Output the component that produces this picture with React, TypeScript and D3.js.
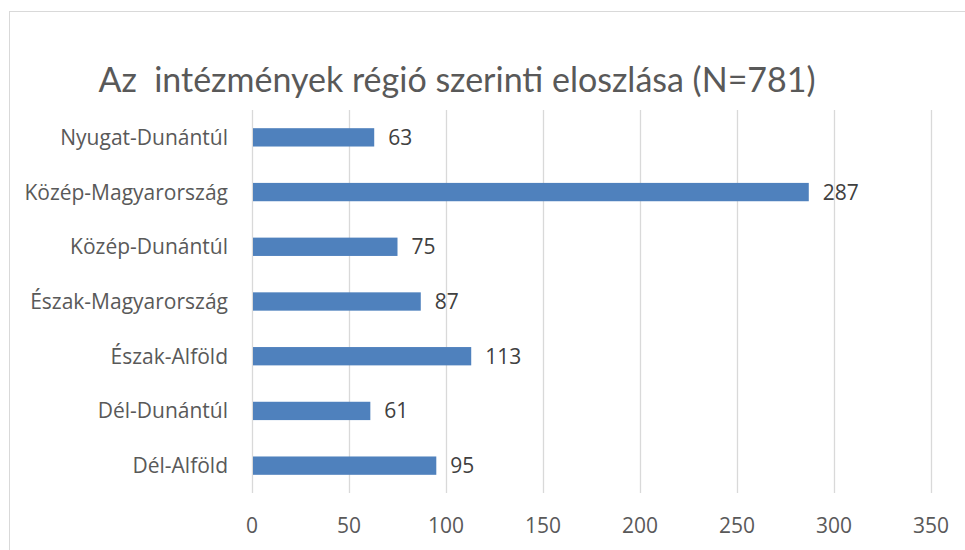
import { useEffect, useRef } from "react";
import * as d3 from "d3";

// chart values
const regions = [
  "Nyugat-Dunántúl",
  "Közép-Magyarország",
  "Közép-Dunántúl",
  "Észak-Magyarország",
  "Észak-Alföld",
  "Dél-Dunántúl",
  "Dél-Alföld",
];
const counts = [63, 287, 75, 87, 113, 61, 95];
const xTicks = [0, 50, 100, 150, 200, 250, 300, 350];
const title = "Az  intézmények régió szerinti eloszlása (N=781)";

const W = 965;
const H = 550;
const TITLE_FONT = "Lato, sans-serif";
const FONT = "'Open Sans', sans-serif";
const TEXT = "#595959";

export default function App() {
  const svgRef = useRef<SVGSVGElement | null>(null);

  useEffect(() => {
    if (!svgRef.current) return;
    const svg = d3.select(svgRef.current);
    svg.html("");

    // chart frame
    svg.append("rect")
      .attr("x", 9.5).attr("y", 11.5)
      .attr("width", W).attr("height", H)
      .attr("fill", "#fff")
      .attr("stroke", "#d9d9d9");

    const x = d3.scaleLinear().domain([0, 350]).range([252, 931]);
    const y = d3.scaleBand().domain(regions).range([110, 493]).paddingInner(0.665).paddingOuter(0.3325);

    // gridlines
    svg.append("g")
      .selectAll("line")
      .data(xTicks)
      .join("line")
      .attr("x1", (d) => x(d) + 0.5).attr("x2", (d) => x(d) + 0.5)
      .attr("y1", 110).attr("y2", 493)
      .attr("stroke", "#d9d9d9").attr("stroke-width", 1.3);

    // bars
    svg.append("g")
      .selectAll("rect")
      .data(counts)
      .join("rect")
      .attr("x", x(0) + 1)
      .attr("y", (d, i) => y(regions[i])!)
      .attr("width", (d) => x(d) - x(0) - 1)
      .attr("height", y.bandwidth())
      .attr("fill", "#4f81bd");

    // value labels
    svg.append("g")
      .selectAll("text")
      .data(counts)
      .join("text")
      .attr("x", (d) => x(d) + 14)
      .attr("y", (d, i) => y(regions[i])! + y.bandwidth() / 2)
      .attr("dy", "0.36em")
      .attr("font-family", FONT).attr("font-size", 21)
      .attr("fill", "#404040")
      .text((d) => d);

    // category labels
    svg.append("g")
      .selectAll("text")
      .data(regions)
      .join("text")
      .attr("x", 228)
      .attr("y", (d) => y(d)! + y.bandwidth() / 2)
      .attr("dy", "0.36em")
      .attr("text-anchor", "end")
      .attr("font-family", FONT).attr("font-size", 21)
      .attr("fill", TEXT)
      .text((d) => d);

    // x tick labels
    svg.append("g")
      .selectAll("text")
      .data(xTicks)
      .join("text")
      .attr("x", (d) => x(d))
      .attr("y", 525)
      .attr("dy", "0.36em")
      .attr("text-anchor", "middle")
      .attr("font-family", FONT).attr("font-size", 21)
      .attr("fill", TEXT)
      .text((d) => d);

    // title
    svg.append("text")
      .attr("x", 457).attr("y", 92)
      .attr("text-anchor", "middle")
      .attr("font-family", TITLE_FONT).attr("font-size", 34)
      .attr("fill", TEXT)
      .style("white-space", "pre")
      .text(title);
  }, []);

  return (
    <svg
      ref={svgRef}
      width={W}
      height={H}
      style={{ position: "absolute", left: 0, top: 0, display: "block" }}
    ></svg>
  );
}
